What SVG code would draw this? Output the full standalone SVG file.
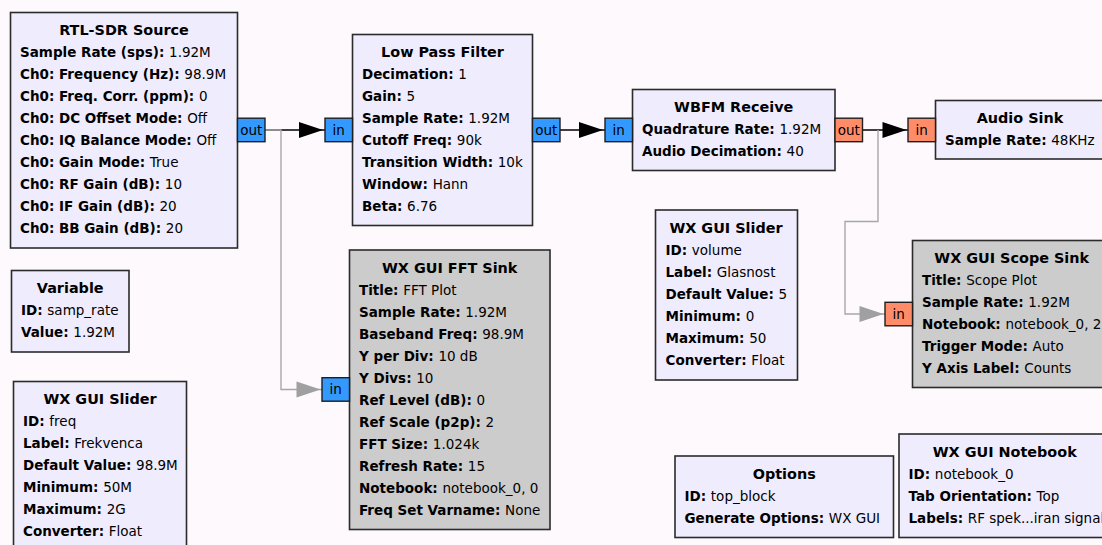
<svg xmlns="http://www.w3.org/2000/svg" width="1102" height="545" viewBox="0 0 1102 545">
  <defs>
    <style>
      text { font-family: "DejaVu Sans", "Liberation Sans", sans-serif; fill: #000; }
      .blk { fill: #efecfd; stroke: #2b2b2b; stroke-width: 1.6; }
      .off { fill: #cccccc; stroke: #2b2b2b; stroke-width: 1.6; }
      .ttl { font-size: 14.4px; font-weight: bold; text-anchor: middle; }
      .row { font-size: 13.5px; }
      .row tspan.k { font-weight: bold; }
      .pc { fill: #3399ff; stroke: #1e1e1e; stroke-width: 1.4; }
      .pf { fill: #ff8c69; stroke: #1e1e1e; stroke-width: 1.4; }
      .pt { font-size: 13.5px; text-anchor: middle; }
      .wire { fill: none; stroke: #000; stroke-width: 1.4; }
      .wire-off { fill: none; stroke: #a8a8a8; stroke-width: 1.4; }
      .head { fill: #000; }
      .head-off { fill: #a0a0a0; }
    </style>
  </defs>

  <rect width="1102" height="545" fill="#fdf9fd"/>

  <!-- connections -->
  <g id="connectors">
    <!-- RTL-SDR Source -> Low Pass Filter -->
    <path class="wire" d="M265 130 H325"/>
    <polygon class="head" points="299,122 323,130 299,138"/>
    <!-- Low Pass Filter -> WBFM Receive -->
    <path class="wire" d="M560 130 H605"/>
    <polygon class="head" points="579,122 603,130 579,138"/>
    <!-- WBFM Receive -> Audio Sink -->
    <path class="wire" d="M862.5 130 H908"/>
    <polygon class="head" points="882.5,122 906.5,130 882.5,138"/>
    <!-- RTL-SDR Source -> WX GUI FFT Sink -->
    <path class="wire-off" d="M265 130 H281 V389.5 H322"/>
    <polygon class="head-off" points="296.5,381.5 320.5,389.5 296.5,397.5"/>
    <!-- WBFM Receive -> WX GUI Scope Sink -->
    <path class="wire-off" d="M878 130 V221.5 H845 V314 H885"/>
    <polygon class="head-off" points="859.5,306 883.5,314 859.5,322"/>
  </g>

  <!-- RTL-SDR Source -->
  <g id="rtlsdr_source">
    <rect class="blk" x="10.5" y="12.5" width="227" height="235.5"/>
    <text class="ttl" x="124" y="35">RTL-SDR Source</text>
    <text class="row" x="20" y="57"><tspan class="k">Sample Rate (sps): </tspan>1.92M</text>
    <text class="row" x="20" y="79"><tspan class="k">Ch0: Frequency (Hz): </tspan>98.9M</text>
    <text class="row" x="20" y="101"><tspan class="k">Ch0: Freq. Corr. (ppm): </tspan>0</text>
    <text class="row" x="20" y="123"><tspan class="k">Ch0: DC Offset Mode: </tspan>Off</text>
    <text class="row" x="20" y="145"><tspan class="k">Ch0: IQ Balance Mode: </tspan>Off</text>
    <text class="row" x="20" y="167"><tspan class="k">Ch0: Gain Mode: </tspan>True</text>
    <text class="row" x="20" y="189"><tspan class="k">Ch0: RF Gain (dB): </tspan>10</text>
    <text class="row" x="20" y="211"><tspan class="k">Ch0: IF Gain (dB): </tspan>20</text>
    <text class="row" x="20" y="233"><tspan class="k">Ch0: BB Gain (dB): </tspan>20</text>
    <rect class="pc" x="237.5" y="118.2" width="27.5" height="23.5"/>
    <text class="pt" x="251.2" y="134.5">out</text>
  </g>

  <!-- Low Pass Filter -->
  <g id="low_pass_filter">
    <rect class="blk" x="352.5" y="34.5" width="180" height="191"/>
    <text class="ttl" x="442.5" y="57">Low Pass Filter</text>
    <text class="row" x="362" y="79"><tspan class="k">Decimation: </tspan>1</text>
    <text class="row" x="362" y="101"><tspan class="k">Gain: </tspan>5</text>
    <text class="row" x="362" y="123"><tspan class="k">Sample Rate: </tspan>1.92M</text>
    <text class="row" x="362" y="145"><tspan class="k">Cutoff Freq: </tspan>90k</text>
    <text class="row" x="362" y="167"><tspan class="k">Transition Width: </tspan>10k</text>
    <text class="row" x="362" y="189"><tspan class="k">Window: </tspan>Hann</text>
    <text class="row" x="362" y="211"><tspan class="k">Beta: </tspan>6.76</text>
    <rect class="pc" x="325" y="118.2" width="27.5" height="23.5"/>
    <text class="pt" x="338.7" y="134.5">in</text>
    <rect class="pc" x="532.5" y="118.2" width="27.5" height="23.5"/>
    <text class="pt" x="546.2" y="134.5">out</text>
  </g>

  <!-- WBFM Receive -->
  <g id="wbfm_receive">
    <rect class="blk" x="632.5" y="89.5" width="202.5" height="81"/>
    <text class="ttl" x="733.7" y="112">WBFM Receive</text>
    <text class="row" x="642" y="134"><tspan class="k">Quadrature Rate: </tspan>1.92M</text>
    <text class="row" x="642" y="156"><tspan class="k">Audio Decimation: </tspan>40</text>
    <rect class="pc" x="605" y="118.2" width="27.5" height="23.5"/>
    <text class="pt" x="618.7" y="134.5">in</text>
    <rect class="pf" x="835" y="118.2" width="27.5" height="23.5"/>
    <text class="pt" x="848.7" y="134.5">out</text>
  </g>

  <!-- Audio Sink -->
  <g id="audio_sink">
    <rect class="blk" x="935.5" y="100.5" width="169" height="58.5"/>
    <text class="ttl" x="1020" y="123">Audio Sink</text>
    <text class="row" x="945" y="145"><tspan class="k">Sample Rate: </tspan>48KHz</text>
    <rect class="pf" x="908" y="118.2" width="27.5" height="23.5"/>
    <text class="pt" x="921.7" y="134.5">in</text>
  </g>

  <!-- Variable -->
  <g id="variable_samp_rate">
    <rect class="blk" x="11.5" y="270.5" width="117.5" height="81.5"/>
    <text class="ttl" x="70.2" y="293">Variable</text>
    <text class="row" x="21" y="315"><tspan class="k">ID: </tspan>samp_rate</text>
    <text class="row" x="21" y="337"><tspan class="k">Value: </tspan>1.92M</text>
  </g>

  <!-- WX GUI Slider (freq) -->
  <g id="slider_freq">
    <rect class="blk" x="13.5" y="381.5" width="173" height="180"/>
    <text class="ttl" x="100" y="404">WX GUI Slider</text>
    <text class="row" x="23" y="426"><tspan class="k">ID: </tspan>freq</text>
    <text class="row" x="23" y="448"><tspan class="k">Label: </tspan>Frekvenca</text>
    <text class="row" x="23" y="470"><tspan class="k">Default Value: </tspan>98.9M</text>
    <text class="row" x="23" y="492"><tspan class="k">Minimum: </tspan>50M</text>
    <text class="row" x="23" y="514"><tspan class="k">Maximum: </tspan>2G</text>
    <text class="row" x="23" y="536"><tspan class="k">Converter: </tspan>Float</text>
  </g>

  <!-- WX GUI FFT Sink -->
  <g id="fft_sink">
    <rect class="off" x="349.5" y="250" width="200.5" height="279.5"/>
    <text class="ttl" x="449.7" y="272.5">WX GUI FFT Sink</text>
    <text class="row" x="359" y="294.5"><tspan class="k">Title: </tspan>FFT Plot</text>
    <text class="row" x="359" y="316.5"><tspan class="k">Sample Rate: </tspan>1.92M</text>
    <text class="row" x="359" y="338.5"><tspan class="k">Baseband Freq: </tspan>98.9M</text>
    <text class="row" x="359" y="360.5"><tspan class="k">Y per Div: </tspan>10 dB</text>
    <text class="row" x="359" y="382.5"><tspan class="k">Y Divs: </tspan>10</text>
    <text class="row" x="359" y="404.5"><tspan class="k">Ref Level (dB): </tspan>0</text>
    <text class="row" x="359" y="426.5"><tspan class="k">Ref Scale (p2p): </tspan>2</text>
    <text class="row" x="359" y="448.5"><tspan class="k">FFT Size: </tspan>1.024k</text>
    <text class="row" x="359" y="470.5"><tspan class="k">Refresh Rate: </tspan>15</text>
    <text class="row" x="359" y="492.5"><tspan class="k">Notebook: </tspan>notebook_0, 0</text>
    <text class="row" x="359" y="514.5"><tspan class="k">Freq Set Varname: </tspan>None</text>
    <rect class="pc" x="322" y="377.7" width="27.5" height="23.5"/>
    <text class="pt" x="335.7" y="394">in</text>
  </g>

  <!-- WX GUI Slider (volume) -->
  <g id="slider_volume">
    <rect class="blk" x="655.5" y="210" width="142" height="170"/>
    <text class="ttl" x="726" y="232.5">WX GUI Slider</text>
    <text class="row" x="665.5" y="254.5"><tspan class="k">ID: </tspan>volume</text>
    <text class="row" x="665.5" y="276.5"><tspan class="k">Label: </tspan>Glasnost</text>
    <text class="row" x="665.5" y="298.5"><tspan class="k">Default Value: </tspan>5</text>
    <text class="row" x="665.5" y="320.5"><tspan class="k">Minimum: </tspan>0</text>
    <text class="row" x="665.5" y="342.5"><tspan class="k">Maximum: </tspan>50</text>
    <text class="row" x="665.5" y="364.5"><tspan class="k">Converter: </tspan>Float</text>
  </g>

  <!-- WX GUI Scope Sink -->
  <g id="scope_sink">
    <rect class="off" x="912.5" y="240.5" width="198" height="147"/>
    <text class="ttl" x="1011.7" y="263">WX GUI Scope Sink</text>
    <text class="row" x="922" y="285"><tspan class="k">Title: </tspan>Scope Plot</text>
    <text class="row" x="922" y="307"><tspan class="k">Sample Rate: </tspan>1.92M</text>
    <text class="row" x="922" y="329"><tspan class="k">Notebook: </tspan>notebook_0, 2</text>
    <text class="row" x="922" y="351"><tspan class="k">Trigger Mode: </tspan>Auto</text>
    <text class="row" x="922" y="373"><tspan class="k">Y Axis Label: </tspan>Counts</text>
    <rect class="pf" x="885" y="302.3" width="27.5" height="23.5"/>
    <text class="pt" x="898.7" y="318.6">in</text>
  </g>

  <!-- Options -->
  <g id="options">
    <rect class="blk" x="675" y="456" width="218.5" height="81.5"/>
    <text class="ttl" x="784.2" y="478.5">Options</text>
    <text class="row" x="684.5" y="500.5"><tspan class="k">ID: </tspan>top_block</text>
    <text class="row" x="684.5" y="522.5"><tspan class="k">Generate Options: </tspan>WX GUI</text>
  </g>

  <!-- WX GUI Notebook -->
  <g id="notebook">
    <rect class="blk" x="899" y="434" width="211" height="103.5"/>
    <text class="ttl" x="1004.7" y="456.5">WX GUI Notebook</text>
    <text class="row" x="908.5" y="478.5"><tspan class="k">ID: </tspan>notebook_0</text>
    <text class="row" x="908.5" y="500.5"><tspan class="k">Tab Orientation: </tspan>Top</text>
    <text class="row" x="908.5" y="522.5"><tspan class="k">Labels: </tspan>RF spek...iran signal</text>
  </g>
</svg>
